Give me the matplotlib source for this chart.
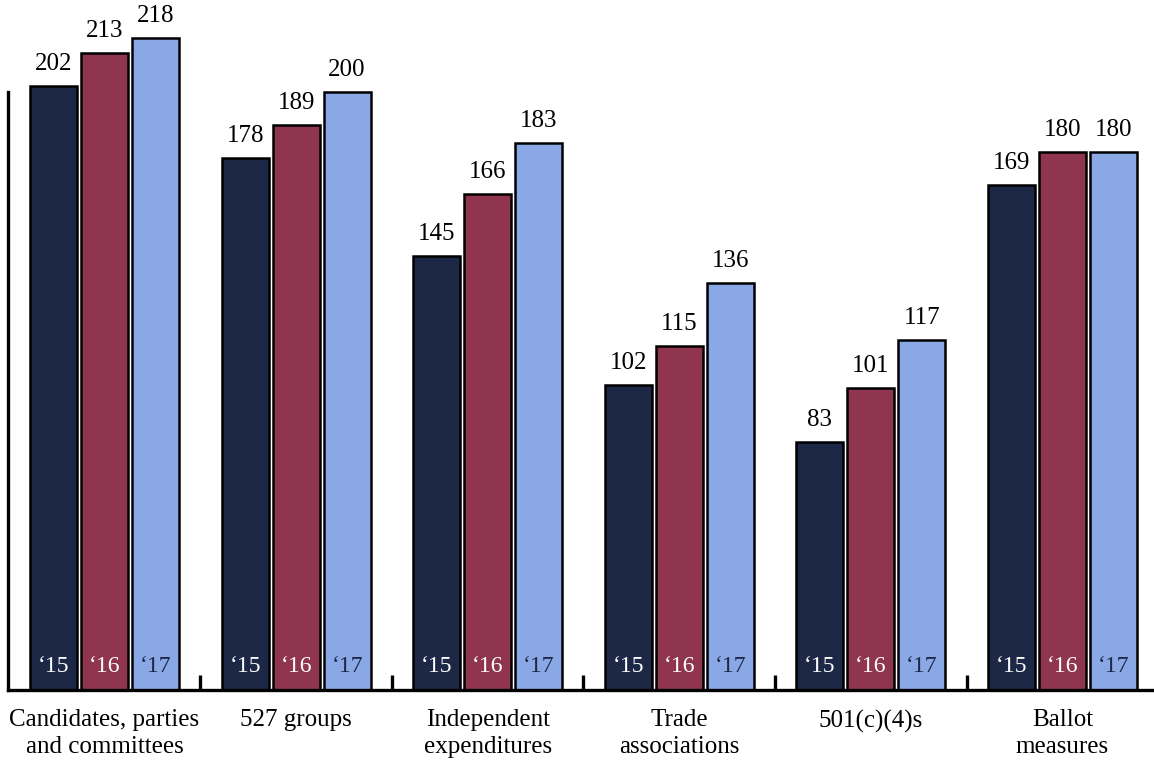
import matplotlib
matplotlib.use("Agg")
import matplotlib.pyplot as plt
import numpy as np

# data
categories = ["Candidates, parties\nand committees", "527 groups", "Independent\nexpenditures",
              "Trade\nassociations", "501(c)(4)s", "Ballot\nmeasures"]
years = ["\u201815", "\u201816", "\u201817"]
v2015 = [202, 178, 145, 102, 83, 169]
v2016 = [213, 189, 166, 115, 101, 180]
v2017 = [218, 200, 183, 136, 117, 180]

colors = ["#1c2846", "#8f3550", "#8aa8e5"]
year_text_colors = ["white", "white", "#1c2846"]

plt.rcParams['font.family'] = ['Liberation Serif', 'DejaVu Serif']

fig = plt.figure(figsize=(11.54, 7.71), dpi=100)
ax = fig.add_axes([8 / 1154, 81 / 771, 1 - 8 / 1154, 598 / 771])

x = np.arange(len(categories))
width = 0.245
step = 0.266

for k, vals in enumerate([v2015, v2016, v2017]):
    pos = x + (k - 1) * step
    ax.bar(pos, vals, width, color=colors[k], edgecolor="black",
           linewidth=1.8, clip_on=False, zorder=2)
    for p, v in zip(pos, vals):
        ax.annotate(str(v), (p, v), xytext=(0, 8), textcoords="offset points",
                    ha="center", va="bottom", fontsize=18, annotation_clip=False)
        ax.text(p, 8.0, years[k], ha="center", va="center", fontsize=17,
                color=year_text_colors[k], zorder=3)

ax.set_xlim(-0.504, 5.478)
ax.set_ylim(0, 200)

ax.spines["top"].set_visible(False)
ax.spines["right"].set_visible(False)
ax.spines["left"].set_linewidth(2.4)
ax.spines["bottom"].set_linewidth(2.4)

ax.set_yticks([])
ax.set_xticks(x)
ax.set_xticklabels(categories, fontsize=18, linespacing=1.25)
ax.tick_params(axis="x", which="major", length=0, pad=14)
ax.set_xticks(x[:-1] + 0.5, minor=True)
ax.tick_params(axis="x", which="minor", direction="in", length=11, width=2.4)

fig.savefig("out.png", dpi=100)
